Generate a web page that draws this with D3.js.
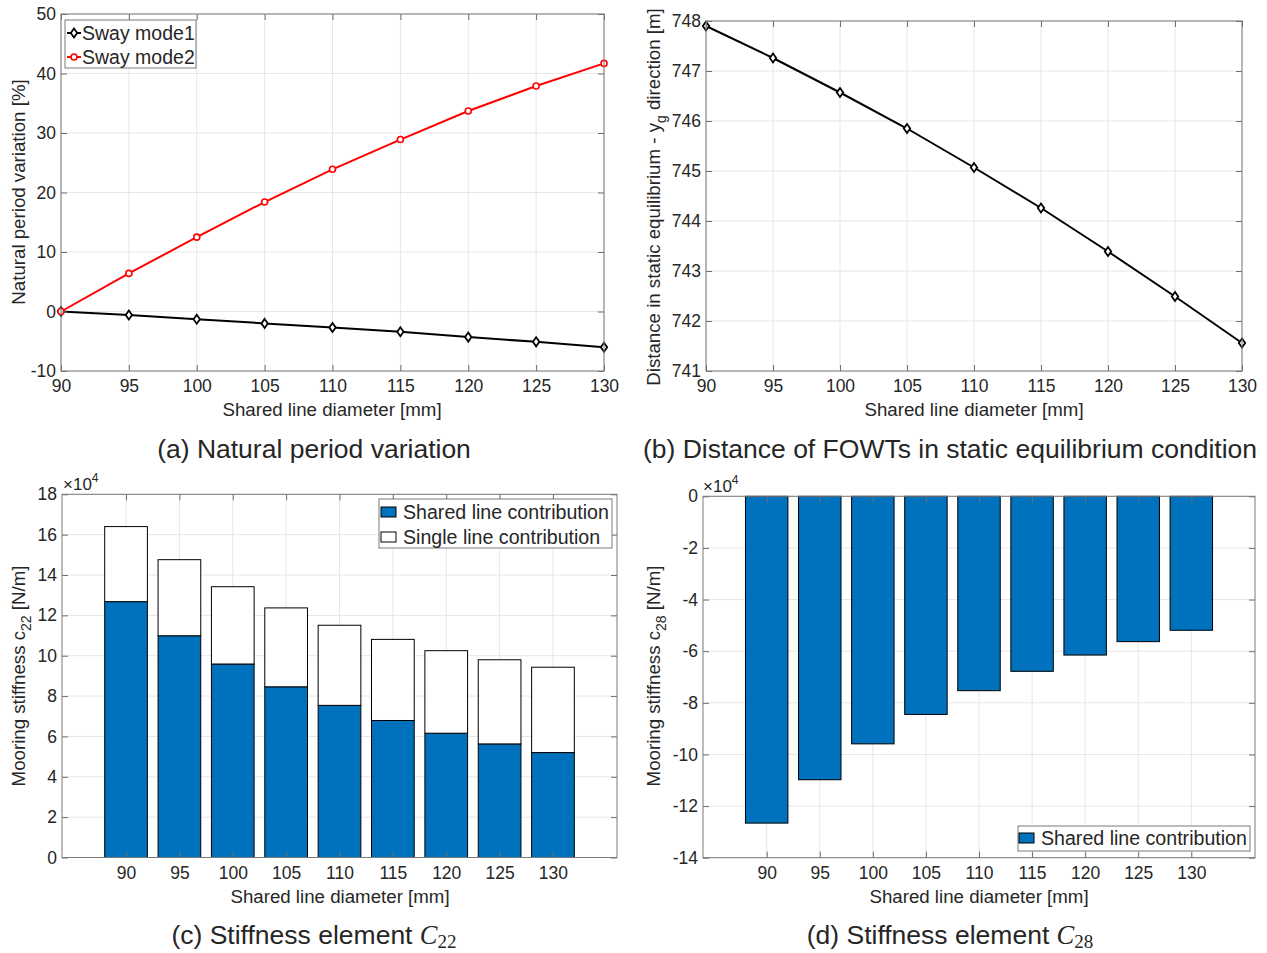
<!DOCTYPE html>
<html>
<head>
<meta charset="utf-8">
<script src="https://cdn.jsdelivr.net/npm/d3@7"></script>
<style>
  body { margin: 0; background: #fff; }
  text { font-family: 'Liberation Sans', Arial, sans-serif; fill: #262626; }
</style>
</head>
<body>
<svg id="fig" width="1267" height="953"></svg>
<script>
// data
const diameters = [90, 95, 100, 105, 110, 115, 120, 125, 130]
const swayMode1 = [0, -0.6, -1.3, -2.0, -2.7, -3.4, -4.3, -5.1, -6.0]
const swayMode2 = [0, 6.4, 12.5, 18.4, 23.9, 28.9, 33.7, 37.9, 41.7]
const distanceYg = [747.9, 747.26, 746.57, 745.85, 745.07, 744.26, 743.39, 742.49, 741.56]
const c22Shared = [126800, 109900, 95900, 84600, 75400, 67900, 61600, 56300, 52000]
const c22Single = [37200, 37700, 38300, 39100, 39700, 40200, 40900, 41700, 42300]
const c28Shared = [-126600, -109800, -95900, -84500, -75300, -67800, -61500, -56300, -51900]

const ticksA = [-10, 0, 10, 20, 30, 40, 50]
const ticksB = [741, 742, 743, 744, 745, 746, 747, 748]
const ticksC = [0, 2, 4, 6, 8, 10, 12, 14, 16, 18].map(d => d * 1e4)
const ticksD = [-14, -12, -10, -8, -6, -4, -2, 0].map(d => d * 1e4)

const blue = '#0072BD'
const svg = d3.select('#fig')

function gridAndAxes(x, y, xticks, yticks, yfmt) {
  const [xa, xb] = x.range()
  const yr = y.range()
  const ya = Math.max(...yr), yb = Math.min(...yr)
  const grid = svg.append('g')
  grid.selectAll('.gx').data(xticks).enter().append('line')
    .attr('x1', d => x(d)).attr('x2', d => x(d)).attr('y1', ya).attr('y2', yb)
    .attr('stroke', '#e6e6e6').attr('stroke-width', 1)
  grid.selectAll('.gy').data(yticks).enter().append('line')
    .attr('y1', d => y(d)).attr('y2', d => y(d)).attr('x1', xa).attr('x2', xb)
    .attr('stroke', '#e6e6e6').attr('stroke-width', 1)

  return function drawAxes() {
    const g = svg.append('g')
    g.append('g').attr('transform', `translate(0,${ya})`)
      .call(d3.axisBottom(x).tickValues(xticks).tickSizeInner(-6).tickSizeOuter(0).tickPadding(9))
    g.append('g').attr('transform', `translate(0,${yb})`)
      .call(d3.axisTop(x).tickValues(xticks).tickFormat('').tickSizeInner(-6).tickSizeOuter(0))
    g.append('g').attr('transform', `translate(${xa},0)`)
      .call(d3.axisLeft(y).tickValues(yticks).tickFormat(yfmt).tickSizeInner(-6).tickSizeOuter(0).tickPadding(5))
    g.append('g').attr('transform', `translate(${xb},0)`)
      .call(d3.axisRight(y).tickValues(yticks).tickFormat('').tickSizeInner(-6).tickSizeOuter(0))
    g.selectAll('.domain').remove()
    g.selectAll('.tick line').attr('stroke', '#6e6e6e')
    g.selectAll('.tick text').style('font-size', '17.5px').attr('fill', '#262626')
      .style('font-family', "'Liberation Sans', Arial, sans-serif")
    g.append('rect').attr('x', xa).attr('y', yb).attr('width', xb - xa).attr('height', ya - yb)
      .attr('fill', 'none').attr('stroke', '#7a7a7a').attr('stroke-width', 1)
  }
}

function xLabel(cx, cy, txt) {
  svg.append('text').attr('x', cx).attr('y', cy).attr('text-anchor', 'middle')
    .style('font-size', '18.7px').text(txt)
}

function yLabel(cx, cy, before, sub, after) {
  const t = svg.append('text').attr('transform', `translate(${cx},${cy}) rotate(-90)`)
    .attr('text-anchor', 'middle').style('font-size', '18.7px')
  t.append('tspan').text(before)
  if (sub) {
    t.append('tspan').attr('dy', 6).style('font-size', '14px').text(sub)
    t.append('tspan').attr('dy', -6).text(after)
  }
}

function caption(cx, cy, txt, math, sub) {
  const t = svg.append('text').attr('x', cx).attr('y', cy).attr('text-anchor', 'middle')
    .style('font-size', '26.5px').text(txt)
  if (math) {
    t.append('tspan').style('font-family', "'Liberation Serif', 'DejaVu Serif', serif")
      .style('font-style', 'italic').text(math)
    t.append('tspan').attr('dy', 4).style('font-family', "'Liberation Serif', 'DejaVu Serif', serif")
      .style('font-size', '19px').text(sub)
  }
}

function exponent(x0, y0) {
  const t = svg.append('text').attr('x', x0).attr('y', y0).style('font-size', '17px')
  t.append('tspan').text('\u00d710')
  t.append('tspan').attr('dy', -8).style('font-size', '12px').text('4')
}

function diamond(sel, color) {
  sel.attr('d', 'M0,-4.5L3.2,0L0,4.5L-3.2,0Z')
    .attr('fill', '#fff').attr('stroke', color).attr('stroke-width', 1.8)
}

// (a) Natural period variation
{
  const x = d3.scaleLinear().domain([90, 130]).range([61, 604])
  const y = d3.scaleLinear().domain([-10, 50]).range([371, 14])
  const axes = gridAndAxes(x, y, diameters, ticksA, d => d)
  const line = d3.line().x((d, i) => x(diameters[i])).y(d => y(d))

  svg.append('path').datum(swayMode1).attr('d', line)
    .attr('fill', 'none').attr('stroke', '#000').attr('stroke-width', 2)
  svg.append('path').datum(swayMode2).attr('d', line)
    .attr('fill', 'none').attr('stroke', '#ff0000').attr('stroke-width', 2)
  svg.selectAll('.m1').data(swayMode1).enter().append('path')
    .attr('transform', (d, i) => `translate(${x(diameters[i])},${y(d)})`)
    .call(diamond, '#000')
  svg.selectAll('.m2').data(swayMode2).enter().append('circle')
    .attr('cx', (d, i) => x(diameters[i])).attr('cy', d => y(d)).attr('r', 3)
    .attr('fill', '#fff').attr('stroke', '#ff0000').attr('stroke-width', 1.6)
  axes()

  // legend
  const lg = svg.append('g')
  lg.append('rect').attr('x', 65).attr('y', 20).attr('width', 131).attr('height', 48)
    .attr('fill', '#fff').attr('stroke', '#7a7a7a')
  const items = [{ name: 'Sway mode1', c: '#000', m: 'd' }, { name: 'Sway mode2', c: '#ff0000', m: 'o' }]
  items.forEach((it, i) => {
    const yy = 33 + i * 24
    lg.append('line').attr('x1', 67).attr('x2', 81).attr('y1', yy).attr('y2', yy)
      .attr('stroke', it.c).attr('stroke-width', 2)
    if (it.m === 'd') {
      lg.append('path').attr('transform', `translate(74,${yy})`).call(diamond, it.c)
    } else {
      lg.append('circle').attr('cx', 74).attr('cy', yy).attr('r', 3)
        .attr('fill', '#fff').attr('stroke', it.c).attr('stroke-width', 1.6)
    }
    lg.append('text').attr('x', 82).attr('y', yy + 7).style('font-size', '19.5px').text(it.name)
  })

  xLabel(332, 416, 'Shared line diameter [mm]')
  yLabel(25, 192, 'Natural period variation [%]')
  caption(314, 458, '(a) Natural period variation')
}

// (b) Distance in static equilibrium
{
  const x = d3.scaleLinear().domain([90, 130]).range([706, 1242])
  const y = d3.scaleLinear().domain([741, 748]).range([371, 21])
  const axes = gridAndAxes(x, y, diameters, ticksB, d => d)
  const line = d3.line().x((d, i) => x(diameters[i])).y(d => y(d))
  svg.append('path').datum(distanceYg).attr('d', line)
    .attr('fill', 'none').attr('stroke', '#000').attr('stroke-width', 2)
  svg.selectAll('.mb').data(distanceYg).enter().append('path')
    .attr('transform', (d, i) => `translate(${x(diameters[i])},${y(d)})`)
    .call(diamond, '#000')
  axes()

  xLabel(974, 416, 'Shared line diameter [mm]')
  yLabel(660, 197, 'Distance in static equilibrium - y', 'g', ' direction [m]')
  caption(950, 458, '(b) Distance of FOWTs in static equilibrium condition')
}

// (c) Stiffness element C22
{
  const x = d3.scaleLinear().domain([84, 136]).range([62, 617])
  const y = d3.scaleLinear().domain([0, 180000]).range([857.5, 494.3])
  const bw = 0.8 * (x(95) - x(90))
  const axes = gridAndAxes(x, y, diameters, ticksC, d => d / 1e4)

  const stacked = diameters.map((d, i) => ({ d, shared: c22Shared[i], single: c22Single[i] }))
  const series = d3.stack().keys(['shared', 'single'])(stacked)
  const fills = { shared: blue, single: '#fff' }
  series.forEach(s => {
    svg.selectAll('.b' + s.key).data(s).enter().append('rect')
      .attr('x', p => x(p.data.d) - bw / 2).attr('width', bw)
      .attr('y', p => y(p[1])).attr('height', p => y(p[0]) - y(p[1]))
      .attr('fill', fills[s.key]).attr('stroke', '#000').attr('stroke-width', 1)
  })
  axes()
  exponent(63, 490)

  const lg = svg.append('g')
  lg.append('rect').attr('x', 379).attr('y', 499).attr('width', 233).attr('height', 49)
    .attr('fill', '#fff').attr('stroke', '#7a7a7a')
  ;[['Shared line contribution', blue], ['Single line contribution', '#fff']].forEach(([name, c], i) => {
    const yy = 512 + i * 25
    lg.append('rect').attr('x', 381).attr('y', yy - 5).attr('width', 15).attr('height', 10)
      .attr('fill', c).attr('stroke', '#000').attr('stroke-width', 1)
    lg.append('text').attr('x', 403).attr('y', yy + 7).style('font-size', '19.6px').text(name)
  })

  xLabel(340, 903, 'Shared line diameter [mm]')
  yLabel(25, 676, 'Mooring stiffness c', '22', ' [N/m]')
  caption(314, 944, '(c) Stiffness element ', 'C', '22')
}

// (d) Stiffness element C28
{
  const x = d3.scaleLinear().domain([84, 136]).range([703, 1255])
  const y = d3.scaleLinear().domain([-140000, 0]).range([857.7, 496.3])
  const bw = 0.8 * (x(95) - x(90))
  const axes = gridAndAxes(x, y, diameters, ticksD, d => d / 1e4)

  svg.selectAll('.bd').data(c28Shared).enter().append('rect')
    .attr('x', (d, i) => x(diameters[i]) - bw / 2).attr('width', bw)
    .attr('y', d => y(Math.max(0, d))).attr('height', d => Math.abs(y(d) - y(0)))
    .attr('fill', blue).attr('stroke', '#000').attr('stroke-width', 1)
  axes()
  exponent(703, 492)

  const lg = svg.append('g')
  lg.append('rect').attr('x', 1018).attr('y', 826).attr('width', 232).attr('height', 25)
    .attr('fill', '#fff').attr('stroke', '#7a7a7a')
  lg.append('rect').attr('x', 1019).attr('y', 833).attr('width', 15).attr('height', 10)
    .attr('fill', blue).attr('stroke', '#000').attr('stroke-width', 1)
  lg.append('text').attr('x', 1041).attr('y', 845).style('font-size', '19.6px').text('Shared line contribution')

  xLabel(979, 903, 'Shared line diameter [mm]')
  yLabel(660, 676, 'Mooring stiffness c', '28', ' [N/m]')
  caption(950, 944, '(d) Stiffness element ', 'C', '28')
}
</script>
</body>
</html>
